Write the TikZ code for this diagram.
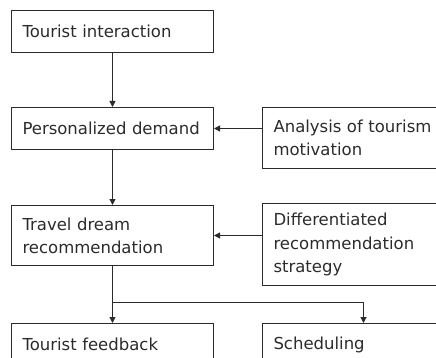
\documentclass[tikz,border=0pt]{standalone}
\usepackage{fontspec}
\setmainfont{DejaVu Sans}
\usepackage{tikz}
\usetikzlibrary{arrows.meta,positioning}
\definecolor{FlowInk}{HTML}{2B2B2B}

\begin{document}
\begin{tikzpicture}[
  x=1pt, y=1pt,
  box/.style={draw=FlowInk,text=FlowInk,line width=1pt,text width=180pt,inner xsep=11pt,inner ysep=0pt,align=left,font=\fontsize{16.5}{23.3}\selectfont},
  arrow/.style={-{Triangle[length=6pt,width=6pt]},line width=1pt,draw=FlowInk}
]
  \useasboundingbox (0,0) rectangle (436,-358);
  \clip (0,0) rectangle (436,-358);
  \node[box, minimum height=42pt, anchor=north west] (tourist) at (11,-10) {Tourist interaction};
  \node[box, minimum height=42pt, below=54pt of tourist] (demand) {Personalized demand};
  \node[box, minimum height=61pt, right=48pt of demand.north east, anchor=north west] (motive) {Analysis of tourism\\motivation};
  \node[box, minimum height=60pt, below=55pt of demand] (dream) {Travel dream\\recommendation};
  \node[box, minimum height=82pt, right=48pt of dream.north east, anchor=north west, yshift=2pt] (strategy) {Differentiated\\recommendation\\strategy};
  \node[box, minimum height=42pt, below=57pt of dream] (feedback) {Tourist feedback};
  \node[box, minimum height=42pt, right=48pt of feedback.north east, anchor=north west] (schedule) {Scheduling};
  \coordinate[below=36pt of dream] (split);
  \draw[arrow] (tourist) -- (demand);
  \draw[arrow] (demand) -- (dream);
  \draw[arrow] (motive.west |- demand) -- (demand);
  \draw[arrow] (strategy.west |- dream) -- (dream);
  \draw[line width=1pt,draw=FlowInk] (dream) -- (split);
  \draw[arrow] (split) -- (feedback);
  \draw[arrow] (split) -| (schedule);
\end{tikzpicture}
\end{document}
